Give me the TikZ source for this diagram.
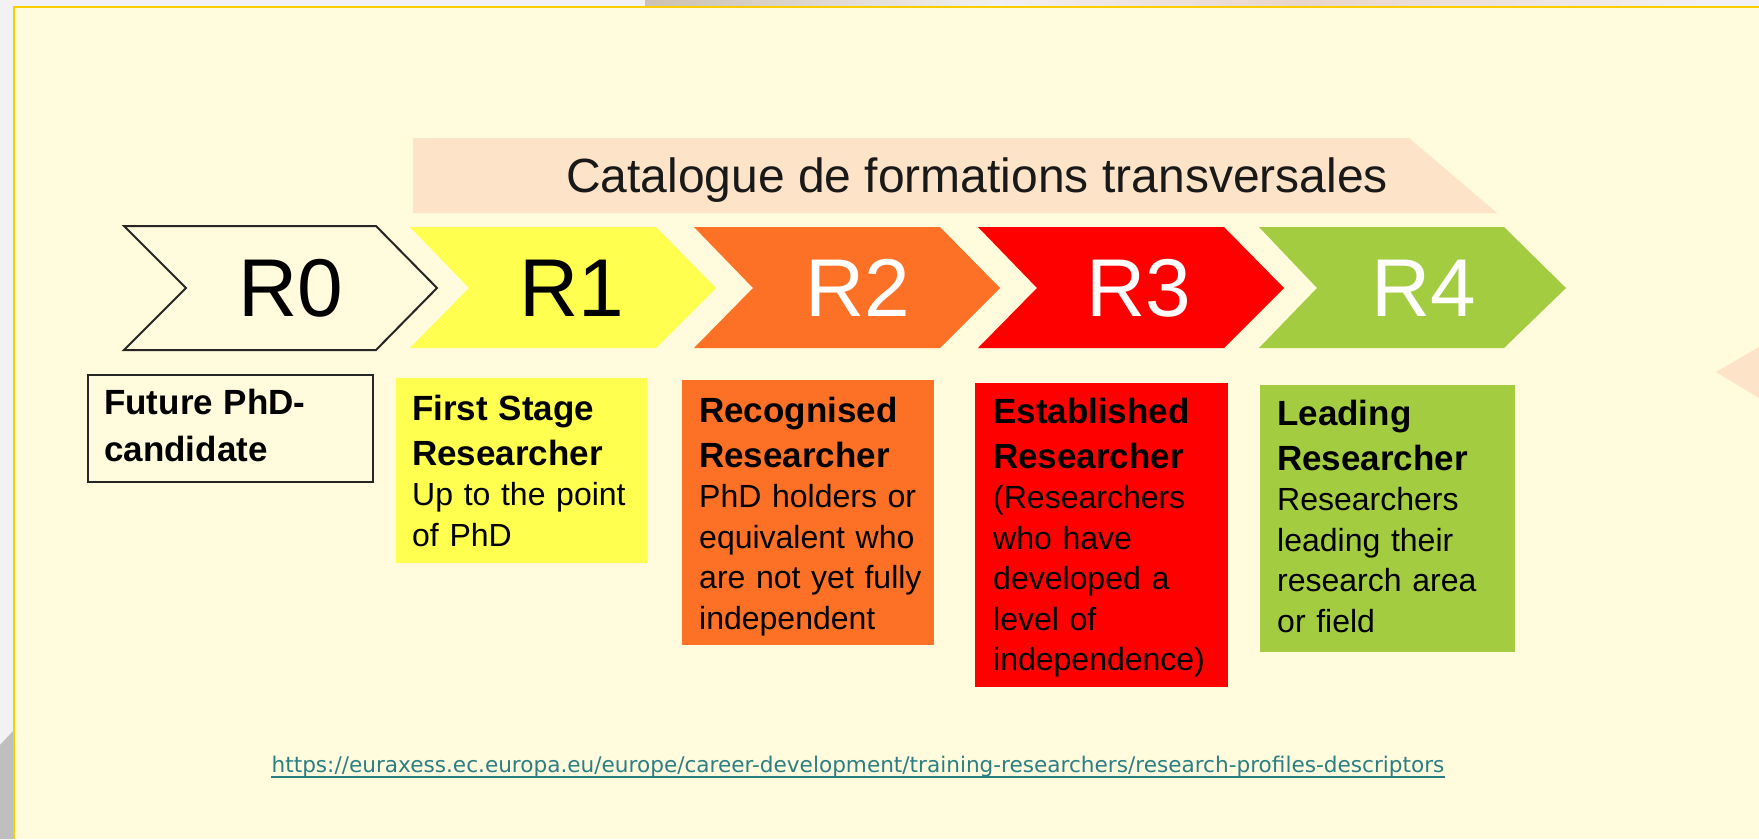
\documentclass[tikz,border=0pt]{standalone}
\usepackage{fontspec}
\usepackage{tikz}
\setmainfont{Liberation Sans}
\newfontfamily\urlfont{DejaVu Sans}

\definecolor{cream}{HTML}{FFFBDC}
\definecolor{slidegray}{HTML}{F2F1F3}
\definecolor{gold}{HTML}{FFCC00}
\definecolor{peach}{HTML}{FDE4C8}
\definecolor{rone}{HTML}{FFFF4F}
\definecolor{rtwo}{HTML}{FD7127}
\definecolor{rthree}{HTML}{FF0000}
\definecolor{rfour}{HTML}{A3CC40}
\definecolor{linkcol}{HTML}{2B7F84}
\definecolor{swoosha}{HTML}{CBC1B2}
\definecolor{swooshb}{HTML}{E8D6CC}

\newcommand{\boxhead}{\fontsize{35}{40.5}\selectfont\bfseries}

\begin{document}
\begin{tikzpicture}[x = 1pt, y = -1pt,
  rlabel/.style = {anchor=base, inner sep=0pt, font=\fontsize{82}{90}\selectfont},
  descbox/.style = {anchor=north west, inner sep=0pt},
  desctext/.style = {anchor=north west, inner sep=0pt, text width=236pt, align=left, font=\fontsize{32}{40.5}\selectfont}]
  \useasboundingbox (0, 0) rectangle (1759, 839);
  % slide behind the panel
  \fill[slidegray] (0, 0) rectangle (1759, 839);
  \fill[black!25] (0, 745) -- (13, 731) -- (13, 839) -- (0, 839) -- cycle;
  \shade[left color=swoosha, right color=slidegray] (645, 0) rectangle (1000, 6);
  \shade[left color=slidegray, right color=swooshb] (1000, 0) rectangle (1300, 6);
  \shade[left color=swooshb, right color=slidegray] (1300, 0) rectangle (1700, 6);
  \fill[cream] (13, 6) rectangle (1759, 839);
  \draw[gold, line width=2.6pt] (14, 839) -- (14, 7) -- (1759, 7);

  % banner and the arrow tip on the right
  \fill[peach] (413, 138) -- (1409, 138) -- (1497, 213) -- (413, 213) -- cycle;
  \node[anchor=base, inner sep=0pt, font=\fontsize{48}{56}\selectfont, text=black!90] (catalogue) at (977, 192) {Catalogue de formations transversales};
  \fill[peach] (1716, 372) -- (1759, 347) -- (1759, 398) -- cycle;

  % chevrons
  \draw[black!85, line width=2pt, fill=cream] (124, 226) -- (376, 226) -- (437, 288) -- (376, 350) -- (124, 350) -- (186, 288) -- cycle;
  \fill[rone] (410, 227) -- (656, 227) -- (716, 288) -- (656, 348) -- (410, 348) -- (469, 288) -- cycle;
  \fill[rtwo] (694, 227) -- (940, 227) -- (1000, 288) -- (940, 348) -- (694, 348) -- (753, 288) -- cycle;
  \fill[rthree] (978, 227) -- (1224, 227) -- (1284, 288) -- (1224, 348) -- (978, 348) -- (1037, 288) -- cycle;
  \fill[rfour] (1259, 227) -- (1504, 227) -- (1566, 288) -- (1504, 348) -- (1259, 348) -- (1317, 288) -- cycle;
  \node[rlabel] (r0) at (291, 316) {R0};
  \node[rlabel] (r1) at (572, 316) {R1};
  \node[rlabel, text=white] (r2) at (858, 316) {R2};
  \node[rlabel, text=white] (r3) at (1139, 316) {R3};
  \node[rlabel, text=white] (r4) at (1424, 316) {R4};

  % profile boxes
  \node[descbox, draw=black!85, line width=1.5pt, fill=cream, minimum width=285pt, minimum height=107pt] (d0) at (87, 374) {};
  \node[descbox, fill=rone, minimum width=251pt, minimum height=185pt] (d1) at (396, 378) {};
  \node[descbox, fill=rtwo, minimum width=252pt, minimum height=265pt] (d2) at (682, 380) {};
  \node[descbox, fill=rthree, minimum width=253pt, minimum height=304pt] (d3) at (975, 383) {};
  \node[descbox, fill=rfour, minimum width=255pt, minimum height=267pt] (d4) at (1260, 385) {};

  \node[desctext] (t0) at ([xshift=17pt]d0.north west) {\rule{0pt}{40pt}{\boxhead Future PhD-\\[6.5pt]candidate}};
  \node[desctext] (t1) at ([xshift=16pt]d1.north west) {\rule{0pt}{42pt}{\boxhead First Stage\\[4.5pt]Researcher}\\Up to the point\\of PhD};
  \node[desctext] (t2) at ([xshift=17pt]d2.north west) {\rule{0pt}{42pt}{\boxhead Recognised\\[4.5pt]Researcher}\\PhD holders or\\equivalent who\\are not yet fully\\independent};
  \node[desctext] (t3) at ([xshift=18pt]d3.north west) {\rule{0pt}{40pt}{\boxhead Established\\[4.5pt]Researcher}\\(Researchers\\who have\\developed a\\level of\\independence)};
  \node[desctext] (t4) at ([xshift=17pt]d4.north west) {\rule{0pt}{40pt}{\boxhead Leading\\[4.5pt]Researcher}\\Researchers\\leading their\\research area\\or field};

  % source link
  \node[anchor=base, inner sep=0pt, font=\urlfont\fontsize{21.6}{26}\selectfont, text=linkcol] (url) at (858, 772) {https://euraxess.ec.europa.eu/europe/career-development/training-researchers/research-profiles-descriptors};
  \draw[linkcol, line width=1.4pt] ([yshift=-5pt]url.base west) -- ([yshift=-5pt]url.base east);
\end{tikzpicture}
\end{document}
